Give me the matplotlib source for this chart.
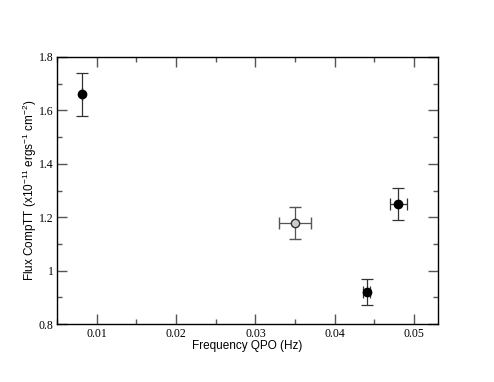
import matplotlib
matplotlib.use("Agg")
import matplotlib.pyplot as plt
from matplotlib.ticker import MultipleLocator

plt.rcParams['mathtext.fontset'] = 'custom'
plt.rcParams['mathtext.rm'] = 'Liberation Sans'
plt.rcParams['mathtext.it'] = 'Liberation Sans:italic'

freq = [0.0082, 0.044, 0.048]
freq_err = [0.0, 0.0004, 0.0011]
flux = [1.66, 0.92, 1.25]
flux_err = [0.08, 0.05, 0.06]

freq_open = [0.035]
freq_open_err = [0.002]
flux_open = [1.18]
flux_open_err = [0.06]

fig = plt.figure(figsize=(4.94, 3.82), dpi=100)
ax = fig.add_axes([0.1154, 0.1518, 0.7712, 0.699])

ax.errorbar(freq, flux, xerr=freq_err, yerr=flux_err, fmt='o', color='black',
            ms=6, capsize=4, elinewidth=0.9, capthick=0.9, ecolor='#333333')
ax.errorbar(freq_open, flux_open, xerr=freq_open_err, yerr=flux_open_err, fmt='o',
            mfc='#cccccc', mec='#333333', ms=6, mew=1.0, capsize=4,
            elinewidth=0.9, capthick=0.9, ecolor='#555555')

ax.set_xlim(0.005, 0.053)
ax.set_ylim(0.8, 1.8)
ax.xaxis.set_minor_locator(MultipleLocator(0.005))
ax.yaxis.set_minor_locator(MultipleLocator(0.1))
ax.set_xticks([0.01, 0.02, 0.03, 0.04, 0.05])
ax.set_xticklabels(['0.01', '0.02', '0.03', '0.04', '0.05'])
ax.set_yticks([0.8, 1.0, 1.2, 1.4, 1.6, 1.8])
ax.set_yticklabels(['0.8', '1', '1.2', '1.4', '1.6', '1.8'])

ax.tick_params(which='both', direction='in', top=True, right=True, color='#555555')
ax.tick_params(which='major', length=7, width=1)
ax.tick_params(which='minor', length=3.5, width=1)
ax.tick_params(axis='x', pad=3)
ax.tick_params(axis='y', pad=2.5)
for lab in ax.get_xticklabels() + ax.get_yticklabels():
    lab.set_family('Liberation Serif')
    lab.set_fontsize(8.5)
for s in ax.spines.values():
    s.set_linewidth(1.0)

ax.set_xlabel('Frequency QPO (Hz)', family='Liberation Sans', fontsize=8.5)
ax.set_ylabel(r'Flux CompTT (x10$^{-11}$ ergs$^{-1}$ cm$^{-2}$)', family='Liberation Sans',
              fontsize=8.5)
ax.xaxis.set_label_coords(0.5, -0.06)
ax.yaxis.set_label_coords(-0.047, 0.5)

fig.savefig('out.png', dpi=100)
